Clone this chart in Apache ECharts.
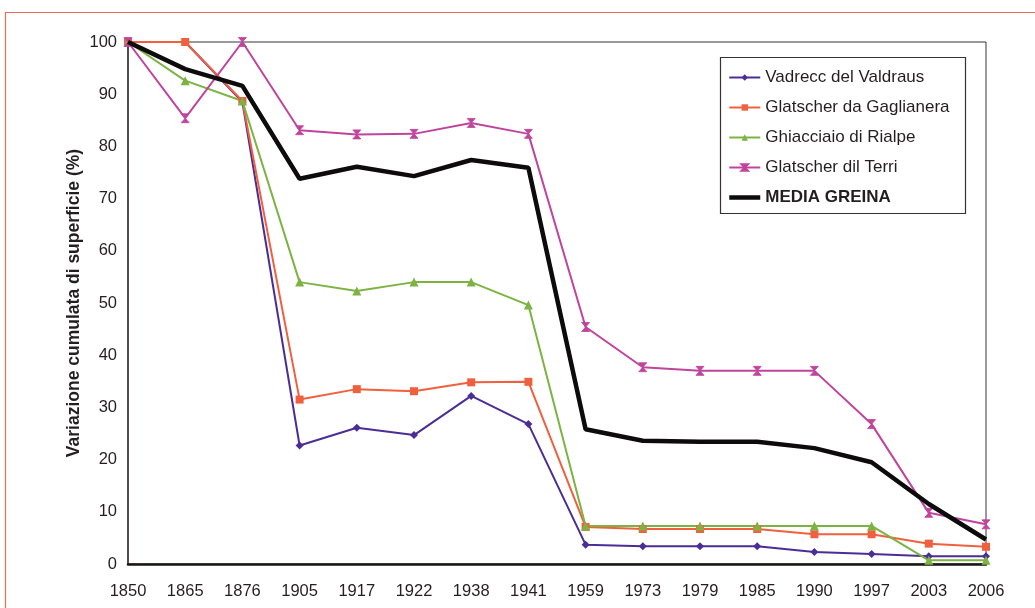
<!DOCTYPE html>
<html>
<head>
<meta charset="utf-8">
<script src="https://cdn.jsdelivr.net/npm/echarts@6/dist/echarts.min.js"></script>
<style>
  html, body { margin: 0; padding: 0; background: #ffffff; }
  #chart { width: 1035px; height: 608px; }
</style>
</head>
<body>
<div id="chart"></div>
<script>
// Survey years (category axis)
const years = ['1850', '1865', '1876', '1905', '1917', '1922', '1938', '1941',
               '1959', '1973', '1979', '1985', '1990', '1997', '2003', '2006'];

// Cumulative surface change (%) per glacier
const vadrecc    = [100, 100, 88.5, 22.7, 26.1, 24.7, 32.2, 26.8, 3.7, 3.4, 3.4, 3.4, 2.3, 1.9, 1.5, 1.5];
const gaglianera = [100, 100, 88.7, 31.5, 33.5, 33.1, 34.8, 34.9, 7.1, 6.7, 6.7, 6.7, 5.7, 5.7, 3.9, 3.3];
const rialpe     = [100, 92.6, 88.7, 54.0, 52.3, 54.0, 54.0, 49.6, 7.3, 7.3, 7.3, 7.3, 7.3, 7.3, 0.7, 0.7];
const terri      = [100, 85.4, 100, 83.1, 82.3, 82.4, 84.5, 82.4, 45.4, 37.7, 37.0, 37.0, 37.0, 26.8, 9.8, 7.6];
const mediaGreina = [100, 94.8, 91.6, 73.8, 76.1, 74.3, 77.4, 75.9, 25.8, 23.6, 23.4, 23.4, 22.2, 19.5, 11.5, 4.7];

// Y axis ticks
const yTicks = { min: 0, max: 100, interval: 10 };

const FONT = '"Liberation Sans", Arial, sans-serif';
const TEXT = '#231f20';

const chart = echarts.init(document.getElementById('chart'), null, { renderer: 'canvas' });

function glacierSeries(name, data, color, symbol, size, extra) {
  return Object.assign({
    name: name,
    type: 'line',
    data: data,
    symbol: symbol,
    symbolSize: size,
    showAllSymbol: true,
    lineStyle: { color: color, width: 2 },
    itemStyle: { color: color },
    emphasis: { disabled: true },
    animation: false,
    z: 3
  }, extra || {});
}

const option = {
  backgroundColor: '#ffffff',
  animation: false,
  textStyle: { fontFamily: FONT, color: TEXT },
  grid: { left: 128, top: 42, right: 49, bottom: 44, containLabel: false,
          show: true, borderColor: '#3a3133', borderWidth: 1 },
  xAxis: {
    type: 'category',
    data: years,
    boundaryGap: false,
    axisLine: { show: true, lineStyle: { color: '#1a1414', width: 2.5 } },
    axisTick: { show: false },
    splitLine: { show: false },
    axisLabel: { color: TEXT, fontSize: 16.5, fontFamily: FONT, margin: 19, interval: 0 }
  },
  yAxis: {
    type: 'value',
    min: yTicks.min, max: yTicks.max, interval: yTicks.interval,
    name: 'Variazione cumulata di superficie (%)',
    nameLocation: 'middle',
    nameGap: 45,
    nameMoveOverlap: false,
    nameTextStyle: { color: TEXT, fontSize: 17.5, fontWeight: 'bold', fontFamily: FONT },
    axisLine: { show: true, lineStyle: { color: '#3a3133', width: 1.5 } },
    axisTick: { show: false },
    splitLine: { show: false },
    axisLabel: { color: TEXT, fontSize: 16.5, fontFamily: FONT, margin: 11 }
  },
  legend: {
    orient: 'vertical',
    left: 722,
    top: 64,
    itemWidth: 31,
    itemHeight: 8,
    itemGap: 13,
    textStyle: { color: TEXT, fontSize: 17, fontFamily: FONT },
    data: [
      { name: 'Vadrecc del Valdraus' },
      { name: 'Glatscher da Gaglianera' },
      { name: 'Ghiacciaio di Rialpe' },
      { name: 'Glatscher dil Terri' },
      { name: 'MEDIA GREINA', textStyle: { fontWeight: 'bold' },
        lineStyle: { color: '#0d0b0b', width: 4.5 },
        itemStyle: { color: 'rgba(0,0,0,0)', borderColor: 'rgba(0,0,0,0)', borderWidth: 0 } }
    ],
    selectedMode: false
  },
  graphic: [
    // outer frame of the figure
    { type: 'rect', shape: { x: 5.5, y: 12.5, width: 1200, height: 800 },
      style: { fill: 'none', stroke: '#e0705a', lineWidth: 1.2 }, silent: true },
    // legend box
    { type: 'rect', shape: { x: 720.5, y: 57.5, width: 245, height: 156 },
      style: { fill: '#ffffff', stroke: '#3a3133', lineWidth: 1.2 }, z: 1, silent: true }
  ],
  series: [
    glacierSeries('Vadrecc del Valdraus', vadrecc, '#4b2d96', 'diamond', 8),
    glacierSeries('Glatscher da Gaglianera', gaglianera, '#f0603e', 'rect', 8),
    glacierSeries('Ghiacciaio di Rialpe', rialpe, '#7cb342', 'triangle', 9),
    glacierSeries('Glatscher dil Terri', terri, '#c0449c', 'path://M0,0L10,0L0,10L10,10Z', [8, 9],
      { itemStyle: { color: '#c0449c', borderColor: '#c0449c', borderWidth: 0.8 } }),
    glacierSeries('MEDIA GREINA', mediaGreina, '#0d0b0b', 'none', 0,
      { lineStyle: { color: '#0d0b0b', width: 4.5 }, z: 4 })
  ]
};

chart.setOption(option);
</script>
</body>
</html>
